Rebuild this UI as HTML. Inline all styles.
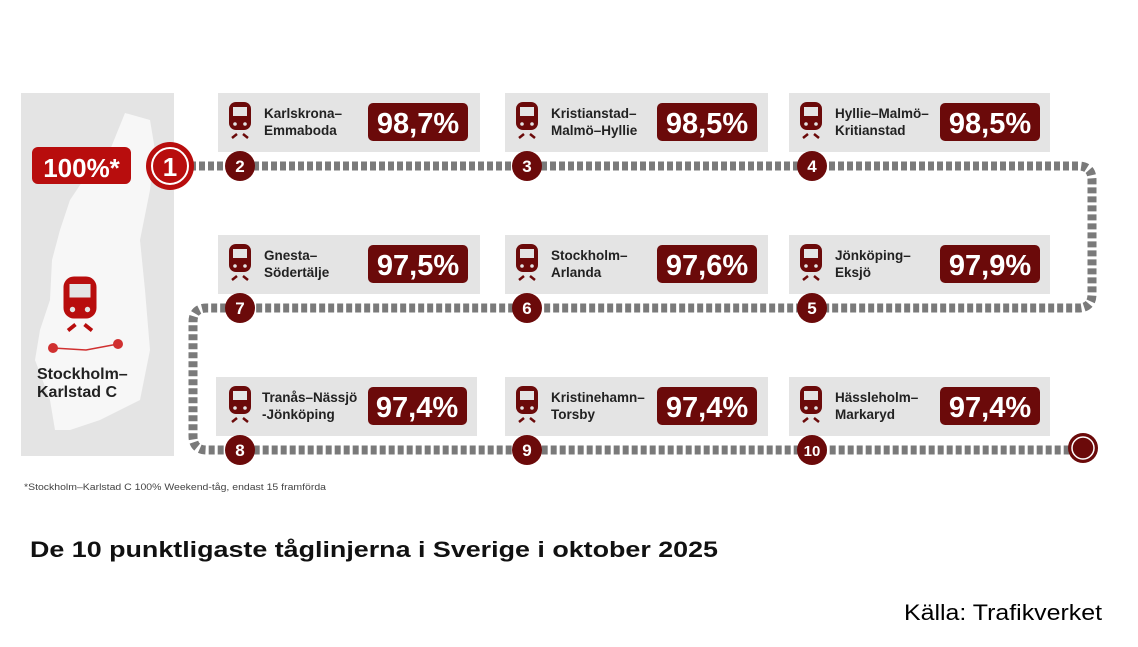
<!DOCTYPE html>
<html><head><meta charset="utf-8"><style>
body{margin:0;background:#fff;width:1138px;height:642px;overflow:hidden}
svg text{font-family:"Liberation Sans","DejaVu Sans",sans-serif}
</style></head><body>
<svg width="1138" height="642" viewBox="0 0 1138 642" xmlns="http://www.w3.org/2000/svg">
<defs>
<g id="train">
<rect x="-11" y="-19" width="22" height="28" rx="7" fill="#6b0a0a"/>
<rect x="-7" y="-14" width="14" height="9" fill="#e4e4e4"/>
<circle cx="-5" cy="3" r="1.8" fill="#e4e4e4"/><circle cx="5" cy="3" r="1.8" fill="#e4e4e4"/>
<path d="M-8 17 L-3 13 M8 17 L3 13" stroke="#6b0a0a" stroke-width="2.5"/>
</g>
</defs>
<!-- map panel -->
<rect x="21" y="93" width="153" height="363" fill="#e4e4e4"/>
<path d="M125 113 L150 120 L155 150 L150 190 L140 240 L145 290 L150 350 L140 400 L100 420 L70 430 L55 430 L50 400 L35 360 L40 330 L50 300 L52 260 L60 230 L70 200 L90 170 L110 150 Z" fill="#f7f7f7"/>
<rect x="32" y="147" width="99" height="37" rx="6" fill="#b80d0d"/>
<text x="81.5" y="177" font-size="26" font-weight="bold" fill="#fff" text-anchor="middle">100%*</text>
<g transform="translate(80,305) scale(1.5)"><rect x="-11" y="-19" width="22" height="28" rx="7" fill="#b80d0d"/><rect x="-7" y="-14" width="14" height="9" fill="#e4e4e4"/><circle cx="-5" cy="3" r="1.8" fill="#e4e4e4"/><circle cx="5" cy="3" r="1.8" fill="#e4e4e4"/><path d="M-8 17 L-3 13 M8 17 L3 13" stroke="#b80d0d" stroke-width="2.5"/></g>
<path d="M53 348 L86 350 L118 344" stroke="#d03030" stroke-width="1.5" fill="none"/>
<circle cx="53" cy="348" r="5" fill="#d03030"/><circle cx="118" cy="344" r="5" fill="#d03030"/>
<text x="37" y="379" font-size="16" font-weight="bold" fill="#222">Stockholm–</text>
<text x="37" y="397" font-size="16" font-weight="bold" fill="#222">Karlstad C</text>
<!-- track -->
<path d="M190 166 H1078 Q1092 166 1092 180 V294 Q1092 308 1078 308 H207 Q193 308 193 322 V436 Q193 450 207 450 H1083" fill="none" stroke="#7a7a7a" stroke-width="9" stroke-dasharray="6 3"/>
<circle cx="170" cy="166" r="24" fill="#b80d0d"/>
<circle cx="170" cy="166" r="18" fill="none" stroke="#fff" stroke-width="2"/>
<text x="170" y="176" font-size="26" font-weight="bold" fill="#fff" text-anchor="middle">1</text>
<circle cx="1083" cy="448" r="15" fill="#6b0a0a"/><circle cx="1083" cy="448" r="11" fill="none" stroke="#fff" stroke-width="1.5"/>
<!-- panels -->
<g font-weight="bold">
<g transform="translate(218,93)"><rect width="262" height="59" fill="#e4e4e4"/><use href="#train" x="22" y="28"/><text x="46" y="25" font-size="13.5" fill="#222">Karlskrona–</text><text x="46" y="42" font-size="13.5" fill="#222">Emmaboda</text><rect x="150" y="10" width="100" height="38" rx="5" fill="#6b0a0a"/><text x="200" y="40" font-size="29" fill="#fff" text-anchor="middle">98,7%</text></g>
<g transform="translate(505,93)"><rect width="263" height="59" fill="#e4e4e4"/><use href="#train" x="22" y="28"/><text x="46" y="25" font-size="13.5" fill="#222">Kristianstad–</text><text x="46" y="42" font-size="13.5" fill="#222">Malmö–Hyllie</text><rect x="152" y="10" width="100" height="38" rx="5" fill="#6b0a0a"/><text x="202" y="40" font-size="29" fill="#fff" text-anchor="middle">98,5%</text></g>
<g transform="translate(789,93)"><rect width="261" height="59" fill="#e4e4e4"/><use href="#train" x="22" y="28"/><text x="46" y="25" font-size="13.5" fill="#222">Hyllie–Malmö–</text><text x="46" y="42" font-size="13.5" fill="#222">Kritianstad</text><rect x="151" y="10" width="100" height="38" rx="5" fill="#6b0a0a"/><text x="201" y="40" font-size="29" fill="#fff" text-anchor="middle">98,5%</text></g>
<g transform="translate(218,235)"><rect width="262" height="59" fill="#e4e4e4"/><use href="#train" x="22" y="28"/><text x="46" y="25" font-size="13.5" fill="#222">Gnesta–</text><text x="46" y="42" font-size="13.5" fill="#222">Södertälje</text><rect x="150" y="10" width="100" height="38" rx="5" fill="#6b0a0a"/><text x="200" y="40" font-size="29" fill="#fff" text-anchor="middle">97,5%</text></g>
<g transform="translate(505,235)"><rect width="263" height="59" fill="#e4e4e4"/><use href="#train" x="22" y="28"/><text x="46" y="25" font-size="13.5" fill="#222">Stockholm–</text><text x="46" y="42" font-size="13.5" fill="#222">Arlanda</text><rect x="152" y="10" width="100" height="38" rx="5" fill="#6b0a0a"/><text x="202" y="40" font-size="29" fill="#fff" text-anchor="middle">97,6%</text></g>
<g transform="translate(789,235)"><rect width="261" height="59" fill="#e4e4e4"/><use href="#train" x="22" y="28"/><text x="46" y="25" font-size="13.5" fill="#222">Jönköping–</text><text x="46" y="42" font-size="13.5" fill="#222">Eksjö</text><rect x="151" y="10" width="100" height="38" rx="5" fill="#6b0a0a"/><text x="201" y="40" font-size="29" fill="#fff" text-anchor="middle">97,9%</text></g>
<g transform="translate(216,377)"><rect width="261" height="59" fill="#e4e4e4"/><use href="#train" x="24" y="28"/><text x="46" y="25" font-size="13.5" fill="#222">Tranås–Nässjö</text><text x="46" y="42" font-size="13.5" fill="#222">-Jönköping</text><rect x="152" y="10" width="99" height="38" rx="5" fill="#6b0a0a"/><text x="201" y="40" font-size="29" fill="#fff" text-anchor="middle">97,4%</text></g>
<g transform="translate(505,377)"><rect width="263" height="59" fill="#e4e4e4"/><use href="#train" x="22" y="28"/><text x="46" y="25" font-size="13.5" fill="#222">Kristinehamn–</text><text x="46" y="42" font-size="13.5" fill="#222">Torsby</text><rect x="152" y="10" width="100" height="38" rx="5" fill="#6b0a0a"/><text x="202" y="40" font-size="29" fill="#fff" text-anchor="middle">97,4%</text></g>
<g transform="translate(789,377)"><rect width="261" height="59" fill="#e4e4e4"/><use href="#train" x="22" y="28"/><text x="46" y="25" font-size="13.5" fill="#222">Hässleholm–</text><text x="46" y="42" font-size="13.5" fill="#222">Markaryd</text><rect x="151" y="10" width="100" height="38" rx="5" fill="#6b0a0a"/><text x="201" y="40" font-size="29" fill="#fff" text-anchor="middle">97,4%</text></g>
</g>
<!-- number circles -->
<g font-weight="bold" font-size="17" fill="#fff" text-anchor="middle">
<circle cx="240" cy="166" r="15" fill="#6b0a0a"/><text x="240" y="172">2</text>
<circle cx="527" cy="166" r="15" fill="#6b0a0a"/><text x="527" y="172">3</text>
<circle cx="812" cy="166" r="15" fill="#6b0a0a"/><text x="812" y="172">4</text>
<circle cx="812" cy="308" r="15" fill="#6b0a0a"/><text x="812" y="314">5</text>
<circle cx="527" cy="308" r="15" fill="#6b0a0a"/><text x="527" y="314">6</text>
<circle cx="240" cy="308" r="15" fill="#6b0a0a"/><text x="240" y="314">7</text>
<circle cx="240" cy="450" r="15" fill="#6b0a0a"/><text x="240" y="456">8</text>
<circle cx="527" cy="450" r="15" fill="#6b0a0a"/><text x="527" y="456">9</text>
<circle cx="812" cy="450" r="15" fill="#6b0a0a"/><text x="812" y="456" font-size="15">10</text>
</g>
<text x="24" y="490" font-size="9" fill="#444" textLength="302" lengthAdjust="spacingAndGlyphs">*Stockholm–Karlstad C 100% Weekend-tåg, endast 15 framförda</text>
<text x="30" y="557" font-size="22" font-weight="bold" fill="#111" textLength="688" lengthAdjust="spacingAndGlyphs">De 10 punktligaste tåglinjerna i Sverige i oktober 2025</text>
<text x="904" y="620" font-size="22" fill="#000" textLength="198" lengthAdjust="spacingAndGlyphs">Källa: Trafikverket</text>
</svg>
</body></html>
